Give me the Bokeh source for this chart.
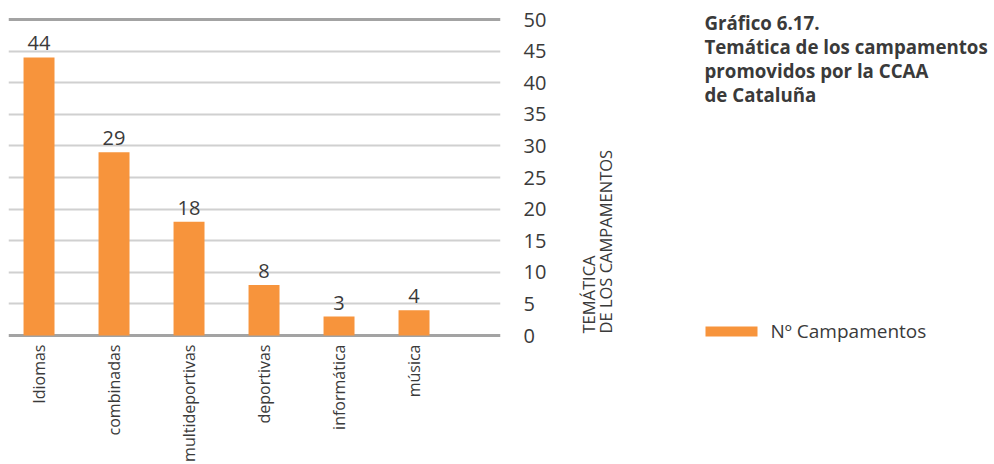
import math
from bokeh.plotting import figure
from bokeh.layouts import row
from bokeh.models import ColumnDataSource, Range1d, FixedTicker, Grid
from bokeh.core.properties import value
from bokeh.embed import file_html
from bokeh.resources import INLINE

categories = ["Idiomas", "combinadas", "multideportivas", "deportivas", "informática", "música"]
values = [44, 29, 18, 8, 3, 4]
y_ticks = [0, 5, 10, 15, 20, 25, 30, 35, 40, 45, 50]
series_name = "Nº Campamentos"
title_lines = ["Gráfico 6.17.", "Temática de los campamentos",
               "promovidos por la CCAA", "de Cataluña"]
axis_title_lines = ["TEMÁTICA", "DE LOS CAMPAMENTOS"]

FONT = "Open Sans"
TXT = "#3a3a3a"
ORANGE = "#F7943C"

xs = list(range(len(categories)))
src = ColumnDataSource(dict(
    x=xs, v=values, lbl=[str(v) for v in values], cat=categories,
    base=[y_ticks[0]] * len(categories)))

# ---------------- main chart ----------------
p = figure(title=None, width=560, height=464, output_backend="svg", toolbar_location=None,
           x_range=Range1d(-0.407, 6.153), y_range=Range1d(-20.41, 53.01),
           y_axis_location="right", min_border_left=8, min_border_top=0,
           min_border_bottom=0, min_border_right=60)
p.outline_line_color = None
p.xaxis.visible = False

r = p.vbar(x="x", top="v", bottom="base", width=0.413, source=src,
           color=ORANGE, line_color=None)

p.xgrid.grid_line_color = None
p.ygrid.ticker = FixedTicker(ticks=y_ticks[1:-1])
p.ygrid.grid_line_color = "#d0d0d0"
p.ygrid.grid_line_width = 2
p.add_layout(Grid(dimension=1, ticker=FixedTicker(ticks=[y_ticks[0], y_ticks[-1]]),
                  grid_line_color="#a3a3a3", grid_line_width=3))

p.yaxis.ticker = FixedTicker(ticks=y_ticks)
p.yaxis.axis_line_color = None
p.yaxis.major_tick_line_color = None
p.yaxis.minor_tick_line_color = None
p.yaxis.major_tick_out = 0
p.yaxis.major_tick_in = 0
p.yaxis.major_label_standoff = 23
p.yaxis.major_label_text_align = "right"
p.yaxis.major_label_text_font = FONT
p.yaxis.major_label_text_font_size = "20px"
p.yaxis.major_label_text_color = TXT

# category labels (vertical, hanging below the baseline)
p.text(x="x", y="base", text="cat", source=src, angle=math.pi / 2,
       text_align="right", text_baseline="middle", y_offset=9,
       text_font=value(FONT), text_font_size="16px", text_color=TXT)

# value labels
p.text(x="x", y="v", text="lbl", source=src, text_align="center",
       text_baseline="middle", y_offset=-14, text_font=value(FONT),
       text_font_size="20px", text_color=TXT)

# ---------------- side panel: axis title, chart title, legend ----------------
s = figure(title=None, width=434, height=464, output_backend="svg", toolbar_location=None,
           x_range=Range1d(0, 434), y_range=Range1d(464, 0),
           min_border_left=0, min_border_right=0, min_border_top=0, min_border_bottom=0)
s.outline_line_color = None
s.axis.visible = False
s.grid.visible = False

s.text(x=[28, 44.5], y=[333, 333], text=axis_title_lines, angle=math.pi / 2,
       text_align="left", text_baseline="middle", text_font=value(FONT),
       text_font_size="16.5px", text_color=TXT)

s.text(x=[144] * 4, y=[22, 46, 70, 93.5], text=title_lines, text_align="left",
       text_baseline="middle", text_font=value(FONT), text_font_size="18.7px",
       text_font_style="bold", text_color=TXT)

s.rect(x=[171], y=[331], width=52, height=10, color=ORANGE, line_color=None)
s.text(x=[210], y=[330], text=[series_name], text_align="left", text_baseline="middle",
       text_font=value(FONT), text_font_size="19px", text_color=TXT)

layout = row(p, s, spacing=0)
open("out.html", "w").write(file_html(layout, INLINE))
